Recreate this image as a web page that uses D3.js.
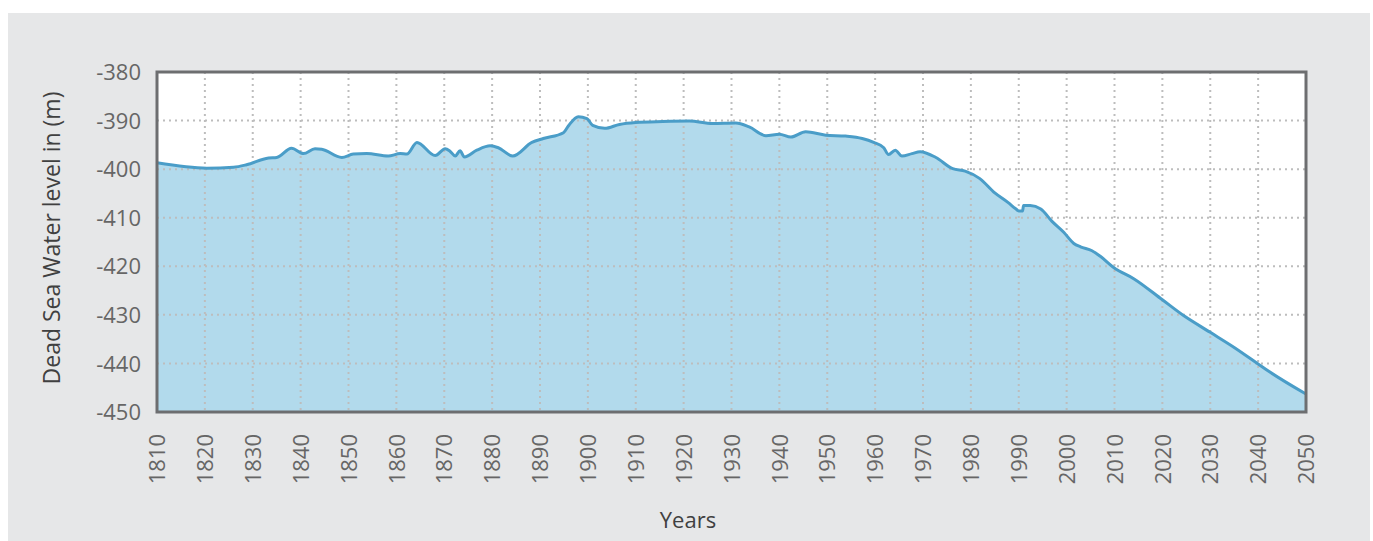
<!DOCTYPE html>
<html>
<head>
<meta charset="utf-8">
<script src="https://cdn.jsdelivr.net/npm/d3@7"></script>
<style>
  body { margin: 0; background: #fff; }
  svg text { font-family: "Open Sans", "Noto Sans", sans-serif; }
</style>
</head>
<body>
<svg id="chart" width="1373" height="541"></svg>
<script>
// Dead Sea level readings (year, metres)
let years = [1810, 1820.4, 1826, 1828.7, 1833.3, 1835, 1838.1, 1840.6, 1843, 1844.4, 1848.6, 1851, 1853.8, 1858.3, 1860.8, 1862.2, 1864.3, 1868.1, 1870.2, 1871.2, 1872.3, 1873.3, 1874.2, 1876.8, 1879.6, 1881.3, 1884.3, 1888.3, 1890.7, 1894.9, 1896, 1898, 1899.8, 1901, 1903.5, 1906.6, 1910, 1915.6, 1921.2, 1926, 1930.9, 1933.7, 1937.2, 1940, 1942.4, 1945.5, 1949.7, 1953.8, 1957.3, 1959.7, 1961.8, 1962.8, 1964.2, 1965.6, 1967.7, 1969.4, 1972.7, 1976.2, 1978.8, 1981.8, 1985, 1987.8, 1989.3, 1990, 1990.8, 1991, 1992.4, 1994.6, 1996.9, 1999.4, 2001.5, 2002.9, 2005.3, 2007.1, 2009.9, 2014.1, 2020, 2024.5, 2030, 2035, 2040, 2041.9, 2050];
let levels = [-398.7, -399.8, -399.6, -399.1, -397.7, -397.6, -395.7, -396.8, -395.8, -395.9, -397.6, -396.9, -396.8, -397.3, -396.8, -396.9, -394.5, -397.2, -395.8, -396.3, -397.3, -396.2, -397.5, -396.1, -395.2, -395.6, -397.3, -394.5, -393.7, -392.5, -391, -389.2, -389.6, -391, -391.6, -390.8, -390.4, -390.2, -390.1, -390.6, -390.5, -391.3, -393.1, -392.8, -393.4, -392.3, -393, -393.2, -393.7, -394.5, -395.6, -397, -396.1, -397.3, -396.8, -396.4, -397.6, -399.9, -400.4, -401.9, -404.9, -406.9, -408.1, -408.6, -408.6, -407.5, -407.5, -408.2, -410.7, -413, -415.3, -416, -416.8, -418, -420.3, -422.6, -426.9, -430.2, -433.6, -436.7, -440.1, -441.4, -446.3];

let yTicks = [-380, -390, -400, -410, -420, -430, -440, -450];
let xTicks = [1810, 1820, 1830, 1840, 1850, 1860, 1870, 1880, 1890, 1900, 1910, 1920, 1930, 1940, 1950, 1960, 1970, 1980, 1990, 2000, 2010, 2020, 2030, 2040, 2050];

let data = years.map((y, i) => ({ year: y, level: levels[i] }));

let svg = d3.select("#chart");

// grey panel behind everything
svg.append("rect")
  .attr("x", 8).attr("y", 13)
  .attr("width", 1362).attr("height", 528)
  .attr("fill", "#e6e7e8");

let plotL = 157, plotR = 1306, plotT = 72, plotB = 412;

let x = d3.scaleLinear().domain([1810, 2050]).range([plotL, plotR]);
let y = d3.scaleLinear().domain([-450, -380]).range([plotB, plotT]);

svg.append("rect")
  .attr("x", plotL).attr("y", plotT)
  .attr("width", plotR - plotL).attr("height", plotB - plotT)
  .attr("fill", "#fff");

// area under the line
let area = d3.area()
  .x(d => x(d.year))
  .y0(plotB)
  .y1(d => y(d.level))
  .curve(d3.curveMonotoneX);

svg.append("path")
  .datum(data)
  .attr("d", area)
  .attr("fill", "#b2daec");

// dotted grid on top of the fill
let grid = svg.append("g")
  .attr("stroke", "#bdbdbd")
  .attr("stroke-width", 2)
  .attr("stroke-dasharray", "2,4");

grid.selectAll("line.v")
  .data(xTicks.slice(1, -1))
  .enter()
  .append("line")
  .attr("x1", d => x(d)).attr("x2", d => x(d))
  .attr("y1", plotT).attr("y2", plotB);

grid.selectAll("line.h")
  .data(yTicks.slice(1, -1))
  .enter()
  .append("line")
  .attr("x1", plotL).attr("x2", plotR)
  .attr("y1", d => y(d)).attr("y2", d => y(d));

let line = d3.line()
  .x(d => x(d.year))
  .y(d => y(d.level))
  .curve(d3.curveMonotoneX);

svg.append("path")
  .datum(data)
  .attr("d", line)
  .attr("fill", "none")
  .attr("stroke", "#4a9dc8")
  .attr("stroke-width", 3)
  .attr("stroke-linejoin", "round");

// frame
svg.append("rect")
  .attr("x", plotL).attr("y", plotT)
  .attr("width", plotR - plotL).attr("height", plotB - plotT)
  .attr("fill", "none")
  .attr("stroke", "#6d6e70")
  .attr("stroke-width", 3);

// y axis labels (plain hyphen like the original)
let yAxis = svg.append("g")
  .attr("transform", `translate(${plotL - 16},0)`)
  .call(d3.axisLeft(y).tickValues(yTicks).tickFormat(d => "-" + Math.abs(d)).tickSize(0).tickPadding(0));
yAxis.select(".domain").remove();
yAxis.selectAll("text")
  .attr("fill", "#666")
  .style("font-size", "22px")
  .attr("dy", "0.35em");

// x axis labels, rotated
let xAxis = svg.append("g")
  .attr("transform", `translate(0,${plotB})`)
  .call(d3.axisBottom(x).tickValues(xTicks).tickFormat(d3.format("d")).tickSize(0));
xAxis.select(".domain").remove();
xAxis.selectAll("text")
  .attr("fill", "#666")
  .style("font-size", "22px")
  .attr("text-anchor", "end")
  .attr("transform", "rotate(-90)")
  .attr("x", -22)
  .attr("y", 0)
  .attr("dy", "0.35em");

svg.append("text")
  .attr("x", 688).attr("y", 528)
  .attr("text-anchor", "middle")
  .attr("fill", "#404040")
  .style("font-size", "22px")
  .text("Years");

svg.append("text")
  .attr("transform", `translate(60,238) rotate(-90)`)
  .attr("text-anchor", "middle")
  .attr("fill", "#404040")
  .style("font-size", "23px")
  .text("Dead Sea Water level in (m)");
</script>
</body>
</html>
